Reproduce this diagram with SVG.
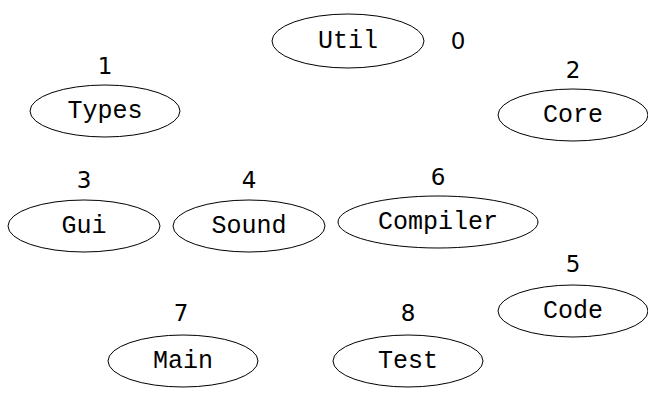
<svg xmlns="http://www.w3.org/2000/svg" width="648" height="393" viewBox="0 0 648 393">
<style>
.n ellipse{fill:none;stroke:#000;stroke-width:1}
.n text.l{font-family:"Liberation Mono","DejaVu Sans Mono",monospace;font-size:25px;text-anchor:middle;dominant-baseline:central;fill:#000}
.n text.i{font-family:"DejaVu Sans","Liberation Sans",sans-serif;font-size:23px;text-anchor:middle;dominant-baseline:central;fill:#000}
</style>
<rect width="648" height="393" fill="#fff"/>
<g id="connectors"></g>
<g id="node0" class="n"><ellipse cx="348" cy="41" rx="76" ry="27"/><text class="l" x="348" y="41">Util</text><text class="i" x="458" y="41">0</text></g>
<g id="node1" class="n"><ellipse cx="105" cy="111" rx="75" ry="26"/><text class="l" x="105" y="111">Types</text><text class="i" x="105" y="66">1</text></g>
<g id="node2" class="n"><ellipse cx="573" cy="115" rx="75" ry="26"/><text class="l" x="573" y="115">Core</text><text class="i" x="573" y="70">2</text></g>
<g id="node3" class="n"><ellipse cx="84" cy="226" rx="76" ry="26"/><text class="l" x="84" y="226">Gui</text><text class="i" x="84" y="180">3</text></g>
<g id="node4" class="n"><ellipse cx="249" cy="226" rx="76" ry="26"/><text class="l" x="249" y="226">Sound</text><text class="i" x="249" y="180">4</text></g>
<g id="node6" class="n"><ellipse cx="438" cy="222" rx="100" ry="26"/><text class="l" x="438" y="222">Compiler</text><text class="i" x="438" y="177">6</text></g>
<g id="node5" class="n"><ellipse cx="573" cy="311" rx="75" ry="26"/><text class="l" x="573" y="311">Code</text><text class="i" x="573" y="264">5</text></g>
<g id="node7" class="n"><ellipse cx="183" cy="361" rx="75" ry="26"/><text class="l" x="183" y="361">Main</text><text class="i" x="181" y="313">7</text></g>
<g id="node8" class="n"><ellipse cx="408" cy="361" rx="75" ry="26"/><text class="l" x="408" y="361">Test</text><text class="i" x="408" y="313">8</text></g>
</svg>
